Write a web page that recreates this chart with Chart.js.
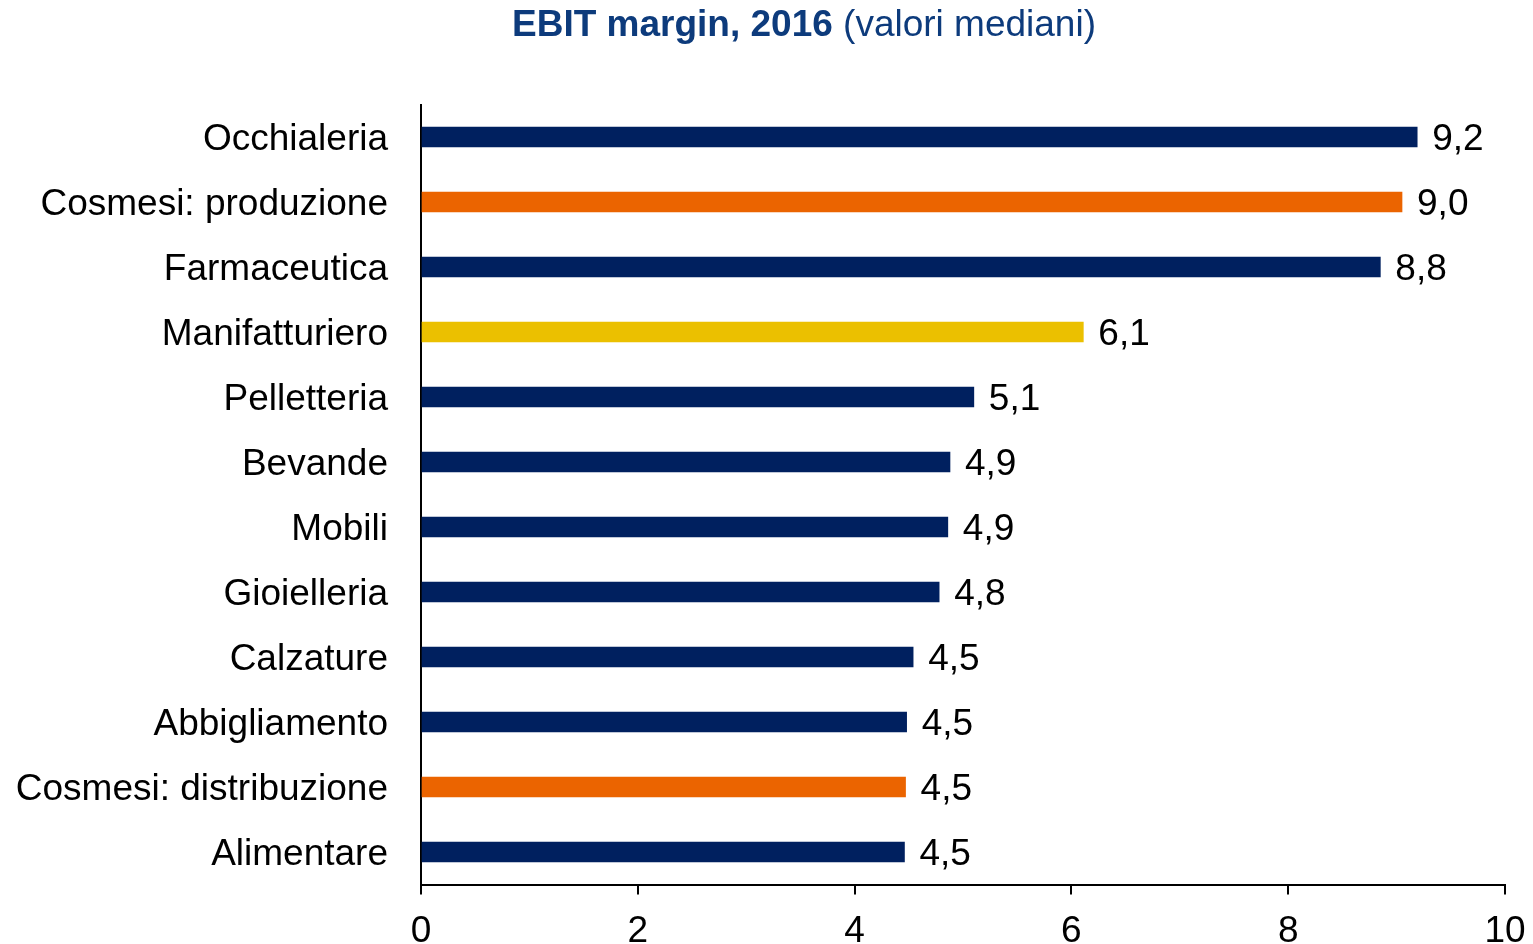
<!DOCTYPE html>
<html>
<head>
<meta charset="utf-8">
<script src="https://cdn.jsdelivr.net/npm/chart.js@4"></script>
<style>
  html, body { margin: 0; padding: 0; background: #fff; }
  #wrap { width: 1533px; height: 944px; position: relative; }
</style>
</head>
<body>
<div id="wrap"><canvas id="ebit-chart"></canvas></div>
<script>
const categories = ['Occhialeria', 'Cosmesi: produzione', 'Farmaceutica', 'Manifatturiero', 'Pelletteria',
    'Bevande', 'Mobili', 'Gioielleria', 'Calzature', 'Abbigliamento', 'Cosmesi: distribuzione', 'Alimentare'];
const ebitMargin = [9.19, 9.05, 8.85, 6.11, 5.10, 4.88, 4.86, 4.78, 4.54, 4.48, 4.47, 4.46];
const shownValues = ['9,2', '9,0', '8,8', '6,1', '5,1', '4,9', '4,9', '4,8', '4,5', '4,5', '4,5', '4,5'];
const barGroups = ['other', 'cosmesi', 'other', 'total', 'other', 'other', 'other', 'other', 'other', 'other', 'cosmesi', 'other'];
const xTicks = [0, 2, 4, 6, 8, 10];

const groupColors = { other: '#00205F', cosmesi: '#EB6400', total: '#EBC000' };
const fontFamily = '"Liberation Sans", Arial, sans-serif';

const titlePlugin = {
    id: 'mixedTitle',
    afterDraw(chart) {
        const ctx = chart.ctx;
        const boldPart = 'EBIT margin, 2016 ';
        const normalPart = '(valori mediani)';
        ctx.save();
        ctx.fillStyle = '#0D3B7C';
        ctx.textBaseline = 'middle';
        ctx.font = 'bold 37px ' + fontFamily;
        const w1 = ctx.measureText(boldPart).width;
        ctx.font = '37px ' + fontFamily;
        const w2 = ctx.measureText(normalPart).width;
        const x = 804 - (w1 + w2) / 2;
        ctx.font = 'bold 37px ' + fontFamily;
        ctx.fillText(boldPart, x, 26);
        ctx.font = '37px ' + fontFamily;
        ctx.fillText(normalPart, x + w1, 26);
        ctx.restore();
    }
};

const valueLabels = {
    id: 'valueLabels',
    afterDatasetsDraw(chart) {
        const ctx = chart.ctx;
        const meta = chart.getDatasetMeta(0);
        ctx.save();
        ctx.fillStyle = '#000';
        ctx.font = '37px ' + fontFamily;
        ctx.textBaseline = 'middle';
        meta.data.forEach((bar, i) => {
            ctx.fillText(shownValues[i], bar.x + 15, bar.y + 3);
        });
        ctx.restore();
    }
};

new Chart(document.getElementById('ebit-chart'), {
    type: 'bar',
    data: {
        labels: categories,
        datasets: [{
            data: ebitMargin,
            backgroundColor: barGroups.map(g => groupColors[g]),
            barThickness: 20
        }]
    },
    options: {
        indexAxis: 'y',
        responsive: true,
        maintainAspectRatio: false,
        animation: false,
        layout: { padding: { top: 104.5, right: 28, bottom: 0, left: 0 } },
        plugins: {
            legend: { display: false },
            tooltip: { enabled: false }
        },
        scales: {
            x: {
                min: 0,
                max: 10,
                afterBuildTicks: (scale) => { scale.ticks = xTicks.map(v => ({ value: v })); },
                afterFit: (scale) => {
                    scale.height = 59.5;
                    scale.paddingLeft = 0;
                    scale.paddingRight = 0;
                },
                border: { display: true, color: '#000', width: 2 },
                grid: { drawOnChartArea: false, drawTicks: true, tickLength: 10, color: '#000', lineWidth: 2 },
                ticks: { color: '#000', padding: 15, font: { family: fontFamily, size: 37 } }
            },
            y: {
                afterFit: (scale) => { scale.width = 421; },
                border: { display: true, color: '#000', width: 2 },
                grid: { display: false, drawTicks: false },
                ticks: { color: '#000', padding: 33, labelOffset: 3, font: { family: fontFamily, size: 37 } }
            }
        }
    },
    plugins: [titlePlugin, valueLabels]
});
</script>
</body>
</html>
